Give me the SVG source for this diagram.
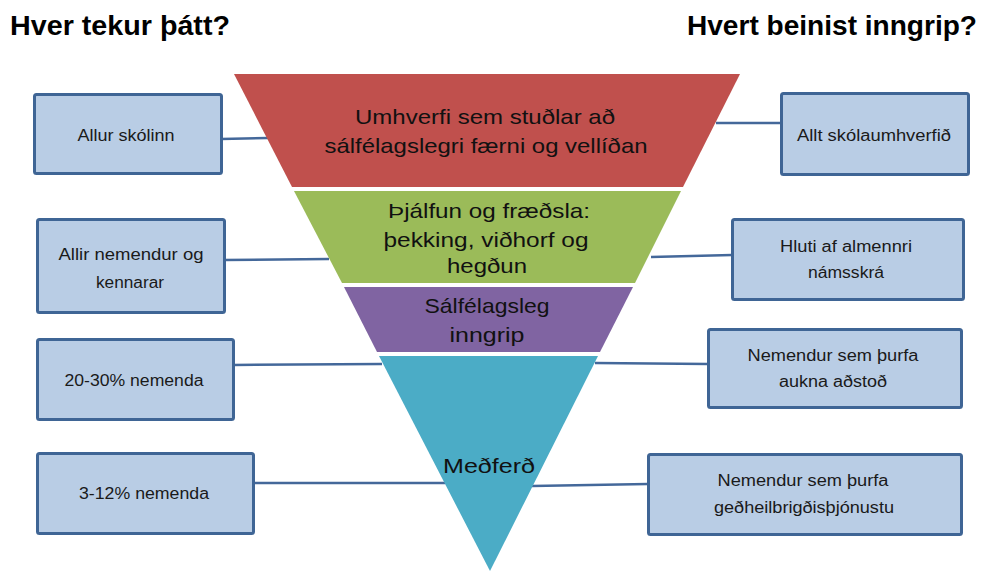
<svg xmlns="http://www.w3.org/2000/svg" width="983" height="571" viewBox="0 0 983 571">
<style>
.hdr{font-family:"Liberation Sans",Arial,sans-serif;font-weight:bold;font-size:28px;fill:#000}
.box rect{fill:#b9cde5;stroke:#3f6595;stroke-width:3}
.box text{font-family:"Liberation Sans",Arial,sans-serif;font-size:16px;fill:#1a1a1a;text-anchor:middle}
.lvl text{font-family:"Liberation Sans",Arial,sans-serif;font-size:21px;fill:#111;text-anchor:middle}
#connectors line{stroke:#44689a;stroke-width:2.5}
</style>
<rect width="983" height="571" fill="#fff"/>
<text class="hdr" x="10" y="35" textLength="220" lengthAdjust="spacingAndGlyphs">Hver tekur þátt?</text>
<text class="hdr" x="687" y="35" textLength="290" lengthAdjust="spacingAndGlyphs">Hvert beinist inngrip?</text>

<g id="connectors">
<line x1="221" y1="139" x2="268" y2="138"/>
<line x1="224" y1="260" x2="329" y2="259"/>
<line x1="233" y1="365" x2="382" y2="364"/>
<line x1="253" y1="483" x2="445" y2="483"/>
<line x1="716" y1="123" x2="781" y2="123"/>
<line x1="651" y1="257" x2="732" y2="255"/>
<line x1="595" y1="363" x2="708" y2="364"/>
<line x1="532" y1="486" x2="648" y2="484"/>
</g>

<g id="level-red" class="lvl">
<polygon points="234,74 740,74 683,187 292,187" fill="#c0504d"/>
<text x="485" y="124" textLength="260" lengthAdjust="spacingAndGlyphs">Umhverfi sem stuðlar að</text>
<text x="486" y="153" textLength="323" lengthAdjust="spacingAndGlyphs">sálfélagslegri færni og vellíðan</text>
</g>
<g id="level-green" class="lvl">
<polygon points="294,191 681,191 635,283 342,283" fill="#9bbb59"/>
<text x="489" y="218" textLength="202" lengthAdjust="spacingAndGlyphs">Þjálfun og fræðsla:</text>
<text x="486" y="247" textLength="205" lengthAdjust="spacingAndGlyphs">þekking, viðhorf og</text>
<text x="487" y="273" textLength="80" lengthAdjust="spacingAndGlyphs">hegðun</text>
</g>
<g id="level-purple" class="lvl">
<polygon points="344,287 633,287 600,352 377,352" fill="#8064a2"/>
<text x="487" y="313" textLength="125" lengthAdjust="spacingAndGlyphs">Sálfélagsleg</text>
<text x="487" y="342" textLength="75" lengthAdjust="spacingAndGlyphs">inngrip</text>
</g>
<g id="level-teal" class="lvl">
<polygon points="379,356 598,356 490,571" fill="#4bacc6"/>
<text x="489" y="473" textLength="92" lengthAdjust="spacingAndGlyphs">Meðferð</text>
</g>

<g id="box-allur-skolinn" class="box">
<rect x="34.5" y="94.5" width="187" height="79" rx="2"/>
<text x="126" y="141" textLength="97" lengthAdjust="spacingAndGlyphs">Allur skólinn</text>
</g>
<g id="box-allir-nemendur" class="box">
<rect x="37.5" y="219.5" width="187" height="93" rx="2"/>
<text x="131" y="260" textLength="145" lengthAdjust="spacingAndGlyphs">Allir nemendur og</text>
<text x="130" y="288" textLength="68" lengthAdjust="spacingAndGlyphs">kennarar</text>
</g>
<g id="box-20-30" class="box">
<rect x="37.5" y="339.5" width="196" height="80" rx="2"/>
<text x="134" y="386" textLength="139" lengthAdjust="spacingAndGlyphs">20-30% nemenda</text>
</g>
<g id="box-3-12" class="box">
<rect x="37.5" y="453.5" width="216" height="80" rx="2"/>
<text x="144" y="499" textLength="130" lengthAdjust="spacingAndGlyphs">3-12% nemenda</text>
</g>
<g id="box-allt-skolaumhverfid" class="box">
<rect x="781.5" y="93.5" width="187" height="81" rx="2"/>
<text x="874" y="141" textLength="154" lengthAdjust="spacingAndGlyphs">Allt skólaumhverfið</text>
</g>
<g id="box-hluti-af-almennri" class="box">
<rect x="732.5" y="219.5" width="231" height="80" rx="2"/>
<text x="846" y="252" textLength="132" lengthAdjust="spacingAndGlyphs">Hluti af almennri</text>
<text x="846" y="278" textLength="76" lengthAdjust="spacingAndGlyphs">námsskrá</text>
</g>
<g id="box-aukna-adstod" class="box">
<rect x="708.5" y="329.5" width="253" height="78" rx="2"/>
<text x="833" y="361" textLength="171" lengthAdjust="spacingAndGlyphs">Nemendur sem þurfa</text>
<text x="833" y="387" textLength="108" lengthAdjust="spacingAndGlyphs">aukna aðstoð</text>
</g>
<g id="box-gedheilbrigdis" class="box">
<rect x="648.5" y="454.5" width="313" height="80" rx="2"/>
<text x="803" y="486" textLength="171" lengthAdjust="spacingAndGlyphs">Nemendur sem þurfa</text>
<text x="804" y="513" textLength="180" lengthAdjust="spacingAndGlyphs">geðheilbrigðisþjónustu</text>
</g>
</svg>
